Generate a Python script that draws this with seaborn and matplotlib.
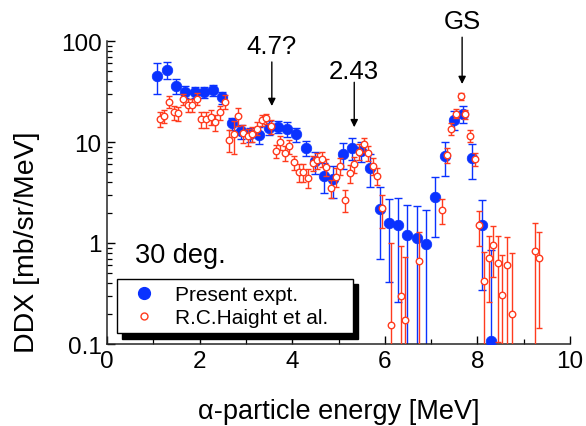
import matplotlib
matplotlib.use("Agg")
import matplotlib.pyplot as plt
import seaborn as sns
import pandas as pd
from matplotlib.lines import Line2D
from matplotlib.ticker import FixedLocator, LogLocator, NullFormatter

# ---------------- data ----------------
present_energy = [1.09, 1.29, 1.49, 1.69, 1.89, 2.09, 2.29, 2.49, 2.69, 2.89,
                  3.09, 3.29, 3.49, 3.69, 3.89, 4.09, 4.29, 4.49, 4.69, 4.89,
                  5.09, 5.29, 5.49, 5.69, 5.89, 6.09, 6.29, 6.49, 6.69, 6.89,
                  7.09, 7.29, 7.49, 7.69, 7.89, 8.09, 8.29]
present_ddx = [45.0, 52.0, 35.6, 31.6, 31.3, 31.3, 32.4, 27.7, 15.3, 12.8,
               11.9, 11.8, 13.9, 14.2, 13.5, 11.9, 8.78, 6.44, 4.64, 4.30,
               7.60, 8.78, 8.10, 5.57, 2.15, 1.56, 1.51, 1.20, 1.13, 0.97,
               2.85, 7.35, 16.6, 19.1, 6.95, 1.51, 0.107]
present_err = [15.0, 10.0, 6.0, 4.5, 4.0, 4.0, 4.0, 3.8, 2.1, 2.1,
               1.8, 2.3, 2.2, 2.0, 2.2, 2.0, 1.5, 1.6, 1.5, 1.5,
               2.2, 2.2, 1.8, 2.0, 1.45, 1.15, 1.25, 1.2, 1.2, 1.14,
               1.7, 2.7, 3.6, 3.8, 2.6, 1.17, 0.75]

haight_energy = [1.14, 1.24, 1.34, 1.44, 1.54, 1.64, 1.74, 1.84, 1.94, 2.04,
                 2.14, 2.24, 2.34, 2.44, 2.54, 2.64, 2.74, 2.84, 2.94, 3.04,
                 3.14, 3.24, 3.34, 3.44, 3.54, 3.64, 3.74, 3.84, 3.94, 4.04,
                 4.14, 4.24, 4.34, 4.44, 4.54, 4.64, 4.74, 4.84, 4.94, 5.04,
                 5.14, 5.24, 5.34, 5.44, 5.54, 5.64, 5.74, 5.84, 5.94, 6.14,
                 6.34, 6.44, 6.74, 7.24, 7.34, 7.44, 7.54, 7.64, 7.74, 7.84,
                 7.94, 8.04, 8.14, 8.24, 8.34, 8.44, 8.54, 8.64, 8.74, 9.24,
                 9.34]
haight_ddx = [17.0, 18.1, 25.1, 19.7, 19.2, 26.7, 23.3, 23.4, 26.9, 16.8,
              16.8, 17.6, 15.6, 19.7, 25.1, 10.5, 11.9, 18.0, 12.3, 11.4,
              12.1, 13.6, 16.5, 17.1, 14.3, 8.20, 9.93, 7.78, 9.07, 6.30,
              5.05, 5.05, 4.42, 6.24, 6.63, 6.84, 5.72, 3.48, 4.55, 5.78,
              2.68, 4.97, 6.06, 8.05, 9.45, 7.84, 5.78, 4.64, 2.20, 0.155,
              0.297, 0.174, 0.656, 2.12, 7.47, 13.5, 19.1, 28.4, 18.9, 11.5,
              6.74, 1.51, 0.418, 0.713, 0.96, 0.634, 0.304, 0.608, 0.20, 0.839,
              0.713]
haight_err = [2.8, 2.8, 3.5, 3.0, 3.0, 3.5, 3.5, 3.5, 3.5, 3.0,
              3.0, 3.0, 2.8, 3.2, 4.0, 2.5, 4.3, 3.5, 2.5, 2.2,
              2.0, 2.0, 2.0, 2.0, 2.2, 1.2, 1.6, 1.3, 1.5, 1.05,
              1.0, 1.0, 0.95, 1.1, 1.2, 1.2, 1.1, 0.7, 1.0, 1.1,
              0.67, 1.0, 1.1, 1.4, 1.5, 1.3, 1.1, 0.9, 0.8, 0.84,
              0.63, 0.56, 0.62, 0.58, 1.3, 1.9, 2.0, 2.4, 2.0, 1.5,
              1.0, 0.57, 0.39, 0.45, 0.5, 0.53, 0.45, 0.55, 0.6, 0.75,
              0.57]

x_ticks = [0, 2, 4, 6, 8, 10]
x_minor_ticks = [1, 3, 5, 7, 9]
y_ticks = [0.1, 1, 10, 100]
y_tick_labels = ["0.1", "1", "10", "100"]
series_labels = ["Present expt.", "R.C.Haight et al."]
# (label, energy, text y, arrow start y, arrow tip y)
peak_labels = [("4.7?", 3.56, 89.0, 62.0, 22.7),
               ("2.43", 5.34, 50.8, 39.0, 14.0),
               ("GS", 7.67, 158.0, 109.0, 37.5)]

BLUE = "#0a32ff"
RED = "#ff3b1e"

present = pd.DataFrame({"E": present_energy, "DDX": present_ddx, "err": present_err})
haight = pd.DataFrame({"E": haight_energy, "DDX": haight_ddx, "err": haight_err})

# ---------------- style ----------------
sns.set_theme(style="ticks")
plt.rcParams["font.family"] = ["Liberation Sans", "DejaVu Sans"]
plt.rcParams["axes.linewidth"] = 1.1

fig = plt.figure(figsize=(5.86, 4.27), dpi=100)
ax = fig.add_axes([107 / 586, 1 - 345 / 427, 463 / 586, 303 / 427])
ax.set_yscale("log")

# present experiment
ax.errorbar(present["E"], present["DDX"], yerr=present["err"], fmt="none",
            ecolor=BLUE, elinewidth=1.0, capsize=2.8, capthick=1.0, zorder=2)
sns.scatterplot(data=present, x="E", y="DDX", ax=ax, color=BLUE,
                edgecolor=BLUE, linewidth=0.5, s=58, zorder=3, legend=False)

# Haight et al.
ax.errorbar(haight["E"], haight["DDX"], yerr=haight["err"], fmt="none",
            ecolor=RED, elinewidth=1.0, capsize=2.3, capthick=1.0, zorder=4)
sns.scatterplot(data=haight, x="E", y="DDX", ax=ax, color="white",
                edgecolor=RED, linewidth=1.0, s=22, zorder=5, legend=False)

ax.set_xlim(0, 10)
ax.set_ylim(0.1, 100)

ax.set_xticks(x_ticks)
ax.set_xticklabels([str(t) for t in x_ticks])
ax.xaxis.set_minor_locator(FixedLocator(x_minor_ticks))
ax.set_yticks(y_ticks)
ax.set_yticklabels(y_tick_labels)
ax.yaxis.set_minor_locator(LogLocator(base=10, subs=[2, 3, 4, 5, 6, 7, 8, 9]))
ax.yaxis.set_minor_formatter(NullFormatter())
ax.tick_params(which="major", direction="in", length=6, width=1.0,
               labelsize=17.5, colors="black", pad=4)
ax.tick_params(which="minor", direction="in", length=3.5, width=0.9, colors="black")
sns.despine(ax=ax)
ax.set_facecolor("white")

ax.set_xlabel("\u03b1-particle energy [MeV]", fontsize=19.5, color="black")
ax.set_ylabel("DDX [mb/sr/MeV]", fontsize=20.5, color="black")
ax.xaxis.set_label_coords(0.5, -0.178)
ax.yaxis.set_label_coords(-0.145, 0.34)

for text, e, ty, y0, y1 in peak_labels:
    ax.text(e, ty, text, ha="center", va="center", fontsize=18.5,
            color="black", clip_on=False)
    ax.annotate("", xy=(e, y1), xytext=(e, y0), annotation_clip=False,
                arrowprops=dict(arrowstyle="-|>", color="black", lw=1.0,
                                mutation_scale=11, shrinkA=0, shrinkB=0))

ax.text(0.605, 0.766, "30 deg.", ha="left", va="center", fontsize=19.5, color="black")

handles = [Line2D([], [], ls="none", marker="o", markersize=8.5,
                  markerfacecolor=BLUE, markeredgecolor=BLUE),
           Line2D([], [], ls="none", marker="o", markersize=5,
                  markerfacecolor="white", markeredgecolor=RED, markeredgewidth=1)]
leg = ax.legend(handles, series_labels, loc="lower left",
                bbox_to_anchor=(0.021, 0.035, 0.51, 0.0), mode="expand",
                borderaxespad=0, frameon=True, fancybox=False,
                edgecolor="black", facecolor="white", framealpha=1,
                shadow={"ox": 4, "oy": -4, "facecolor": "black",
                        "edgecolor": "black", "alpha": 1},
                fontsize=15, borderpad=0.3, handlelength=2.0,
                handletextpad=0.5, labelspacing=0.2)
leg.get_frame().set_linewidth(1.0)
for t in leg.get_texts():
    t.set_color("black")

fig.savefig("out.png", dpi=100, facecolor="white")
